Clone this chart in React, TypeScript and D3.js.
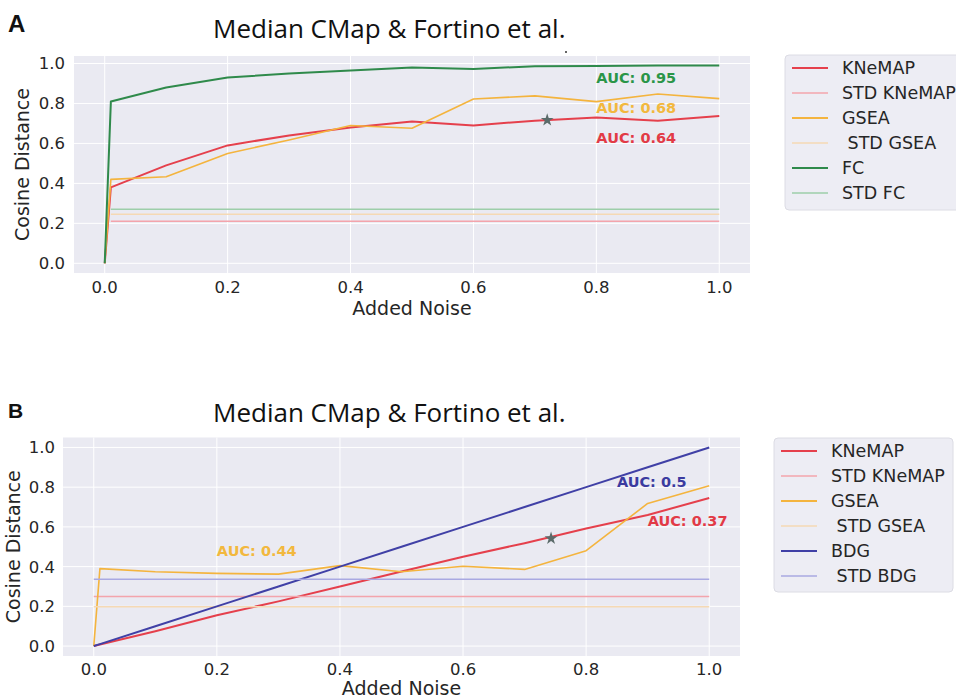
import * as d3 from 'd3';

// shared x values (added noise)
const noise = [0, 0.01, 0.1, 0.2, 0.3, 0.4, 0.5, 0.6, 0.7, 0.8, 0.9, 1.0];
const tickValues = [0, 0.2, 0.4, 0.6, 0.8, 1.0];
const title = 'Median CMap & Fortino et al.';

// Panel A
const knemapA = [0, 0.38, 0.49, 0.59, 0.64, 0.68, 0.71, 0.69, 0.714, 0.73, 0.714, 0.737];
const gseaA = [0, 0.42, 0.433, 0.55, 0.617, 0.69, 0.676, 0.822, 0.838, 0.809, 0.847, 0.824];
const fcA = [0, 0.81, 0.88, 0.93, 0.95, 0.965, 0.98, 0.973, 0.986, 0.988, 0.99, 0.99];
const stdKnemapA = 0.21;
const stdGseaA = 0.246;
const stdFcA = 0.27;
const legendA = ['KNeMAP', 'STD KNeMAP', 'GSEA', ' STD GSEA', 'FC', 'STD FC'];
const aucA = [
  { text: 'AUC: 0.95', x: 0.8, y: 0.9, color: '#2a9548' },
  { text: 'AUC: 0.68', x: 0.8, y: 0.75, color: '#f2b83e' },
  { text: 'AUC: 0.64', x: 0.8, y: 0.6, color: '#e23a46' },
];
const starA = { x: 0.72, y: 0.717 };

// Panel B
const knemapB = [0, 0.008, 0.075, 0.155, 0.225, 0.3, 0.375, 0.45, 0.518, 0.592, 0.66, 0.745];
const gseaB = [0, 0.39, 0.374, 0.366, 0.362, 0.405, 0.374, 0.402, 0.386, 0.48, 0.718, 0.807];
const bdgB = [0, 0.01, 0.1, 0.2, 0.3, 0.4, 0.5, 0.6, 0.7, 0.8, 0.9, 1.0];
const stdKnemapB = 0.25;
const stdGseaB = 0.198;
const stdBdgB = 0.336;
const legendB = ['KNeMAP', 'STD KNeMAP', 'GSEA', ' STD GSEA', 'BDG', ' STD BDG'];
const aucB = [
  { text: 'AUC: 0.5', x: 0.85, y: 0.8, color: '#3b3ba0' },
  { text: 'AUC: 0.37', x: 0.9, y: 0.604, color: '#e23a46' },
  { text: 'AUC: 0.44', x: 0.2, y: 0.453, color: '#f2b83e' },
];
const starB = { x: 0.743, y: 0.542 };

const RED = '#e5404c';
const RED_STD = '#f3a4ac';
const GOLD = '#f4b43e';
const GOLD_STD = '#f5d9b4';
const GREEN = '#2f8a4b';
const GREEN_STD = '#9dceaa';
const BLUE = '#4040a6';
const BLUE_STD = '#a9a9e2';

const FONT = '"DejaVu Sans", sans-serif';

type Series = { label: string; values?: number[]; std?: number; color: string; width: number; opacity?: number };

function Panel({
  letter, letterSize, letterY, titleY, box, yDomain, series, stdStart, legend, legendBox, auc, star, yLabelX, xTickY, xLabelY, yTickGap,
}: any) {
  const x = d3.scaleLinear().domain([-0.05, 1.05]).range([box.left, box.right]);
  const y = d3.scaleLinear().domain(yDomain).range([box.bottom, box.top]);
  const line = d3.line<number>().x((_, i) => x(noise[i])).y((d) => y(d));
  const starPath = d3.symbol().type(d3.symbolStar).size(52)() as string;

  return (
    <g>
      <text x={8} y={letterY} fontFamily='"Liberation Sans", Arial, sans-serif' fontWeight="bold" fontSize={letterSize} fill="#111">{letter}</text>
      <text x={213} y={titleY} fontFamily='"Open Sans", sans-serif' fontSize={26} fill="#111">{title}</text>
      <rect x={box.left} y={box.top} width={box.right - box.left} height={box.bottom - box.top} fill="#eaeaf2" />
      {tickValues.map((t) => (
        <g key={'g' + t}>
          <line x1={x(t)} x2={x(t)} y1={box.top} y2={box.bottom} stroke="#fff" strokeWidth={1} />
          <line x1={box.left} x2={box.right} y1={y(t)} y2={y(t)} stroke="#fff" strokeWidth={1} />
          <text x={x(t)} y={xTickY} textAnchor="middle" fontFamily={FONT} fontSize={16.5} fill="#262626">{d3.format('.1f')(t)}</text>
          <text x={box.left - yTickGap} y={y(t)} dy="0.36em" textAnchor="end" fontFamily={FONT} fontSize={16.5} fill="#262626">{d3.format('.1f')(t)}</text>
        </g>
      ))}
      {series.map((s: Series, i: number) =>
        s.values ? (
          <path key={i} d={line(s.values) as string} fill="none" stroke={s.color} strokeWidth={s.width} strokeOpacity={s.opacity ?? 1} strokeLinejoin="round" />
        ) : (
          <line key={i} x1={x(stdStart)} x2={x(1)} y1={y(s.std!)} y2={y(s.std!)} stroke={s.color} strokeWidth={s.width} strokeOpacity={s.opacity ?? 1} />
        )
      )}
      <path d={starPath} transform={`translate(${x(star.x)},${y(star.y)})`} fill="#5b6b6a" />
      {auc.map((a: any) => (
        <text key={a.text} x={x(a.x)} y={y(a.y)} fontFamily={FONT} fontWeight="bold" fontSize={14.5} fill={a.color}>{a.text}</text>
      ))}
      <text transform={`translate(${yLabelX},${(box.top + box.bottom) / 2}) rotate(-90)`} textAnchor="middle" fontFamily={FONT} fontSize={19} fill="#262626">Cosine Distance</text>
      <text x={(box.left + box.right) / 2} y={xLabelY} textAnchor="middle" fontFamily={FONT} fontSize={19} fill="#262626">Added Noise</text>
      <rect x={legendBox.x} y={legendBox.y} width={legendBox.w} height={legendBox.h} rx={4} fill="#eaeaf2" fillOpacity={0.85} stroke="#dcdce4" strokeWidth={1} />
      {legend.map((lab: string, i: number) => {
        const s: Series = series[i];
        const cy = legendBox.y + 13 + i * 25;
        return (
          <g key={lab + i}>
            <line x1={legendBox.x + 7} x2={legendBox.x + 43} y1={cy} y2={cy} stroke={s.color} strokeWidth={s.values ? 2 : 1.5} strokeOpacity={s.opacity ?? 1} />
            <text x={legendBox.x + 57} y={cy} dy="0.36em" fontFamily={FONT} fontSize={17.5} fill="#262626" style={{ whiteSpace: 'pre' }}>{lab}</text>
          </g>
        );
      })}
    </g>
  );
}

export default function App() {
  const seriesA: Series[] = [
    { label: legendA[0], values: knemapA, color: RED, width: 2 },
    { label: legendA[1], std: stdKnemapA, color: RED_STD, width: 1.5 },
    { label: legendA[2], values: gseaA, color: GOLD, width: 1.6 },
    { label: legendA[3], std: stdGseaA, color: GOLD_STD, width: 1.5 },
    { label: legendA[4], values: fcA, color: GREEN, width: 2 },
    { label: legendA[5], std: stdFcA, color: GREEN_STD, width: 1.5 },
  ];
  const seriesB: Series[] = [
    { label: legendB[0], values: knemapB, color: RED, width: 2 },
    { label: legendB[1], std: stdKnemapB, color: RED_STD, width: 1.5 },
    { label: legendB[2], values: gseaB, color: GOLD, width: 1.6 },
    { label: legendB[3], std: stdGseaB, color: GOLD_STD, width: 1.5 },
    { label: legendB[4], values: bdgB, color: BLUE, width: 2 },
    { label: legendB[5], std: stdBdgB, color: BLUE_STD, width: 1.5 },
  ];
  return (
    <svg width={956} height={699} style={{ position: 'absolute', left: 0, top: 0, background: '#fff' }}>
      <Panel
        letter="A" letterSize={24} letterY={32} titleY={38}
        box={{ left: 74, right: 750, top: 56, bottom: 273 }}
        yDomain={[-0.0485, 1.0375]}
        series={seriesA} stdStart={0.01} legend={legendA}
        legendBox={{ x: 785, y: 55, w: 180, h: 155 }}
        auc={aucA} star={starA}
        yLabelX={29} xTickY={293} xLabelY={315} yTickGap={9}
      />
      <circle cx={566} cy={52} r={1} fill="#333" />
      <Panel
        letter="B" letterSize={21} letterY={418} titleY={422}
        box={{ left: 63, right: 740, top: 437.5, bottom: 656 }}
        yDomain={[-0.05, 1.05]}
        series={seriesB} stdStart={0} legend={legendB}
        legendBox={{ x: 774, y: 438, w: 179, h: 154 }}
        auc={aucB} star={starB}
        yLabelX={20} xTickY={675} xLabelY={695} yTickGap={8}
      />
    </svg>
  );
}
